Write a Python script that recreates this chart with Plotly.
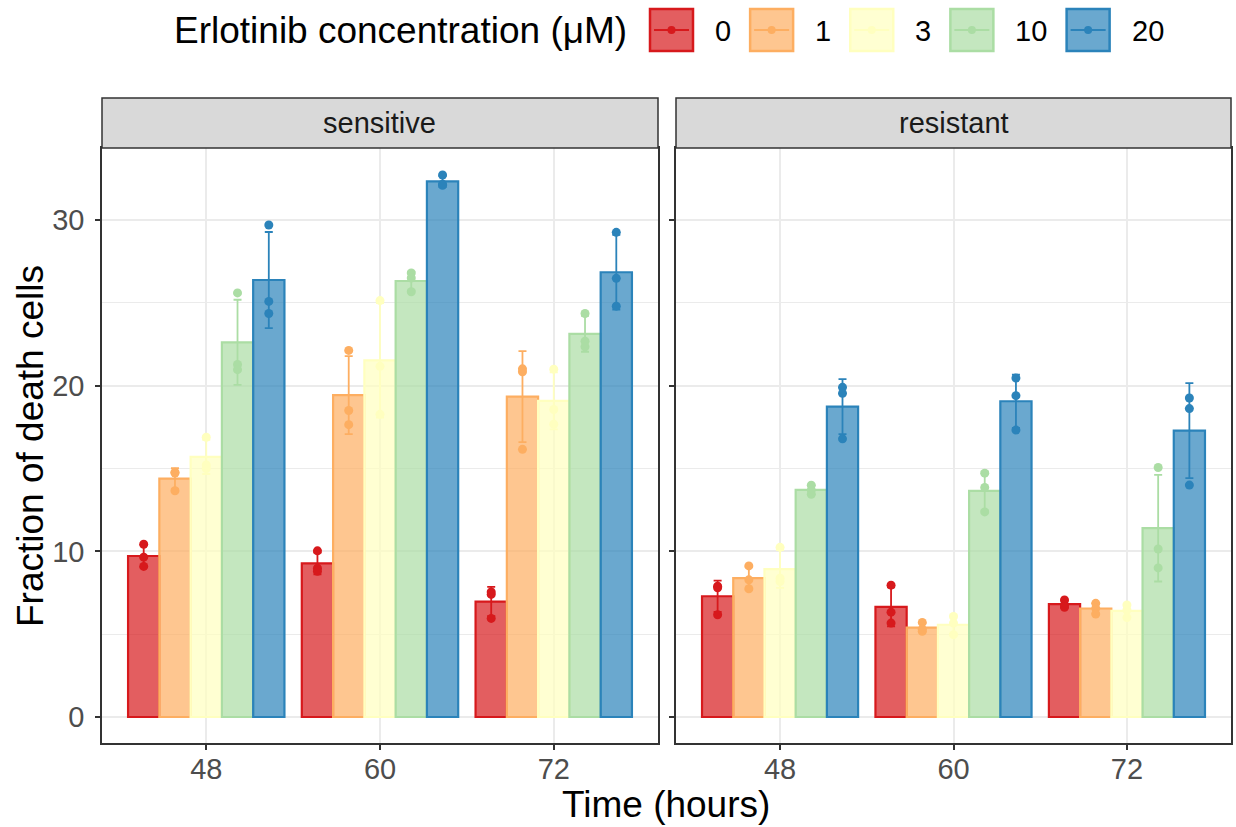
import plotly.graph_objects as go

times = ["48", "60", "72"]
concs = ["0", "1", "3", "10", "20"]
line_colors = ["#D7191C", "#FDAE61", "#FFFFBF", "#ABDDA4", "#2B83BA"]
fill_colors = ["rgba(215,25,28,0.7)", "rgba(253,174,97,0.7)", "rgba(255,255,191,0.7)",
               "rgba(171,221,164,0.7)", "rgba(43,131,186,0.7)"]

# sensitive panel (rows = concentration, cols = time)
sens_mean = [[9.72, 9.27, 6.97],
             [14.39, 19.43, 19.34],
             [15.70, 21.53, 19.08],
             [22.62, 26.32, 23.13],
             [26.38, 32.33, 26.85]]
sens_sd = [[0.67, 0.66, 0.88],
           [0.63, 2.35, 2.75],
           [1.03, 3.45, 1.72],
           [2.57, 0.57, 1.08],
           [2.90, 0.34, 2.25]]
sens_pts = [[[10.43, 9.65, 9.09], [10.03, 8.98, 8.80], [7.55, 7.40, 5.95]],
            [[14.78, 14.73, 13.66], [22.13, 18.50, 17.65], [21.02, 20.84, 16.16]],
            [[16.89, 15.22, 15.00], [25.14, 21.17, 18.27], [21.00, 18.56, 17.67]],
            [[25.60, 21.28, 20.97], [26.81, 26.50, 25.67], [24.36, 22.69, 22.35]],
            [[29.70, 25.09, 24.36], [32.72, 32.16, 32.10], [29.26, 26.48, 24.80]]]

# resistant panel
res_mean = [[7.29, 6.65, 6.81],
            [8.38, 5.39, 6.55],
            [8.93, 5.57, 6.41],
            [13.71, 13.65, 11.40],
            [18.74, 19.06, 17.29]]
res_sd = [[0.94, 1.18, 0.22],
          [0.70, 0.28, 0.32],
          [1.14, 0.56, 0.38],
          [0.27, 1.18, 3.22],
          [1.66, 1.60, 2.87]]
res_pts = [[[7.90, 7.80, 6.17], [7.96, 6.33, 5.67], [7.06, 6.76, 6.62]],
           [[9.12, 8.28, 7.74], [5.71, 5.30, 5.17], [6.86, 6.56, 6.22]],
           [[10.24, 8.38, 8.18], [6.07, 5.67, 4.97], [6.76, 6.46, 6.00]],
           [[13.99, 13.70, 13.45], [14.72, 13.86, 12.38], [15.06, 10.14, 9.00]],
           [[19.90, 19.54, 16.79], [20.46, 19.40, 17.32], [19.26, 18.62, 14.00]]]

panels = [("sensitive", sens_mean, sens_sd, sens_pts, "x", "y"),
          ("resistant", res_mean, res_sd, res_pts, "x2", "y2")]

FONT = "Liberation Sans, Arial, Helvetica, sans-serif"
W, H = 1236, 827
TITLE_SIZE = 37
TEXT_SIZE = 29

fig = go.Figure()
for pi, (name, means, sds, pts, xa, ya) in enumerate(panels):
    for ci, c in enumerate(concs):
        fig.add_trace(go.Bar(
            x=times, y=means[ci], xaxis=xa, yaxis=ya,
            name=c, legendgroup=c, showlegend=False,
            offsetgroup=c, alignmentgroup=name,
            marker=dict(color=fill_colors[ci], line=dict(color=line_colors[ci], width=2.2)),
            error_y=dict(type="data", array=sds[ci], color=line_colors[ci],
                         thickness=1.8, width=4),
        ))
    for ci, c in enumerate(concs):
        xs, ys = [], []
        for ti, t in enumerate(times):
            for v in pts[ci][ti]:
                xs.append(t)
                ys.append(v)
        fig.add_trace(go.Scatter(
            x=xs, y=ys, xaxis=xa, yaxis=ya, mode="markers",
            name=c, legendgroup=c, showlegend=False,
            offsetgroup=c, alignmentgroup=name,
            marker=dict(color=line_colors[ci], size=9),
            hoverinfo="y",
        ))

py = lambda p: 1 - p / H
px = lambda p: p / W

x_dom1 = [px(102), px(658)]
x_dom2 = [px(676), px(1231)]
y_dom = [py(743), py(148)]
yr = [-1.57, 34.35]

axis_common = dict(
    showgrid=True, gridcolor="#EBEBEB", gridwidth=2,
    showline=True, mirror=True, linecolor="#333333", linewidth=1.5,
    ticks="outside", ticklen=5, tickcolor="#333333", tickwidth=1.5,
    tickfont=dict(family=FONT, size=TEXT_SIZE, color="#4D4D4D"),
    zeroline=False,
)
minor_grid = dict(tickvals=[5, 15, 25], showgrid=True,
                  gridcolor="#EBEBEB", gridwidth=1, ticks="")
fig.update_layout(
    width=W, height=H,
    margin=dict(l=0, r=0, t=0, b=0),
    plot_bgcolor="white", paper_bgcolor="white",
    barmode="group", bargap=0.1, bargroupgap=0.0,
    scattermode="group", scattergap=0.1,
    showlegend=False,
    font=dict(family=FONT, color="#000000"),
    xaxis=dict(domain=x_dom1, anchor="y", type="category",
               range=[-0.6, 2.6], ticklabelstandoff=-6, **axis_common),
    xaxis2=dict(domain=x_dom2, anchor="y2", type="category",
                range=[-0.6, 2.6], ticklabelstandoff=-6, **axis_common),
    yaxis=dict(domain=y_dom, anchor="x", range=yr,
               tickvals=[0, 10, 20, 30], ticklabelstandoff=5,
               minor=minor_grid, **axis_common),
    yaxis2=dict(domain=y_dom, anchor="x2", range=yr, matches="y",
                tickvals=[0, 10, 20, 30], showticklabels=False,
                minor=minor_grid, **axis_common),
)

# facet strips
strip_h = 50 / (743 - 148)
for xa, ya, label in [("x", "y", "sensitive"), ("x2", "y2", "resistant")]:
    fig.add_shape(type="rect", xref=f"{xa} domain", yref=f"{ya} domain",
                  x0=0, x1=1, y0=1, y1=1 + strip_h,
                  fillcolor="#D9D9D9", line=dict(color="#333333", width=1.5),
                  layer="above")
    fig.add_annotation(text=label, xref=f"{xa} domain", yref=f"{ya} domain",
                       x=0.5, y=1 + strip_h / 2, xanchor="center", yanchor="middle",
                       showarrow=False,
                       font=dict(family=FONT, size=TEXT_SIZE, color="#1A1A1A"))

# axis titles
fig.add_annotation(text="Time (hours)", xref="paper", yref="paper",
                   x=px(666), y=py(804), xanchor="center", yanchor="middle",
                   showarrow=False,
                   font=dict(family=FONT, size=TITLE_SIZE, color="#000000"))
fig.add_annotation(text="Fraction of death cells", xref="paper", yref="paper",
                   x=px(30), y=py(446), xanchor="center", yanchor="middle",
                   showarrow=False, textangle=-90,
                   font=dict(family=FONT, size=TITLE_SIZE, color="#000000"))

# legend (drawn as keys + text)
leg_cy = 30
key_w, key_h = 45, 44
fig.add_annotation(text="Erlotinib concentration (μM)", xref="paper", yref="paper",
                   x=px(629), y=py(leg_cy + 1), xanchor="right", yanchor="middle",
                   showarrow=False,
                   font=dict(family=FONT, size=TITLE_SIZE, color="#000000"))
kx = 649
for ci, c in enumerate(concs):
    x0, x1 = kx, kx + key_w
    y0, y1 = leg_cy - key_h / 2, leg_cy + key_h / 2
    fig.add_shape(type="rect", xref="paper", yref="paper",
                  x0=px(x0 + 1), x1=px(x1 - 1), y0=py(y1 - 1), y1=py(y0 + 1),
                  fillcolor=fill_colors[ci], line=dict(color=line_colors[ci], width=2.5))
    fig.add_shape(type="line", xref="paper", yref="paper",
                  x0=px(x0 + 5), x1=px(x1 - 5), y0=py(leg_cy), y1=py(leg_cy),
                  line=dict(color=line_colors[ci], width=2))
    fig.add_shape(type="circle", xref="paper", yref="paper",
                  x0=px(x0 + key_w / 2 - 4), x1=px(x0 + key_w / 2 + 4),
                  y0=py(leg_cy + 4), y1=py(leg_cy - 4),
                  fillcolor=line_colors[ci], line=dict(width=0))
    lx = x1 + 19
    fig.add_annotation(text=c, xref="paper", yref="paper",
                       x=px(lx), y=py(leg_cy + 1), xanchor="left", yanchor="middle",
                       showarrow=False,
                       font=dict(family=FONT, size=TEXT_SIZE, color="#000000"))
    kx = lx + len(c) * 0.556 * TEXT_SIZE + 20

fig.write_html("out.html")
